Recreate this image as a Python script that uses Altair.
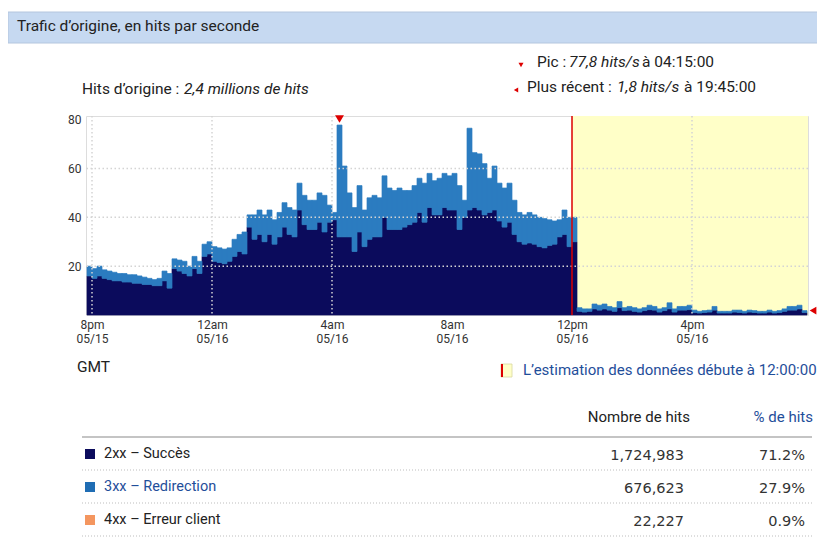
import altair as alt
import numpy as np
import pandas as pd

# ---------------- data (10-minute bins, GMT, first bin starts 19:50 on 05/15) ----------------
hits_2xx = [
    16, 15, 16, 15, 14.5, 14, 14, 13.5, 13.5, 13,
    13, 12.5, 12.5, 12, 12, 14, 11, 19, 18, 17,
    16, 19, 17, 24, 25, 22, 21.5, 21, 22, 24,
    26, 25, 36, 31, 33, 30, 33, 29, 32, 36,
    33, 32, 43, 37, 35, 35, 38, 34, 38, 39,
    32, 32, 32, 26, 34, 28, 31, 32, 32, 40,
    35, 35, 35, 36, 37, 38, 42, 38, 44, 41,
    41, 44, 43, 43, 35, 40, 43, 44, 43, 41,
    42, 43, 38.5, 36, 38, 33, 30, 29, 29.5, 29,
    28, 27.5, 28.5, 29, 32, 33, 28, 30,
    1.5, 1.2, 1.5, 2.5, 2, 2.5, 2, 1.5, 3, 1.8,
    2, 1.5, 1.2, 1.8, 2.2, 2, 1.2, 1.8, 2.5, 1.2,
    2, 2, 2.2, 1, 0.8, 1, 1.2, 2, 0.8, 0.8,
    0.8, 1.2, 1, 0.8, 1.2, 1, 0.8, 0.8, 1.2, 0.8,
    1, 1.5, 2, 2, 2.5, 1,
]
hits_3xx = [
    4, 4, 4, 3.5, 3.5, 3.5, 3, 3.5, 3, 3.5,
    3, 3, 2.5, 2.5, 3, 4, 6, 4, 4.5, 5,
    4, 5, 5, 5, 5, 6, 6, 6, 5.5, 7,
    7, 9, 5, 10, 10, 11, 10, 10, 10, 10,
    11, 11, 11, 12, 12, 12, 12, 15, 7, 3,
    45.8, 29, 18, 18, 19, 15, 17, 17, 16, 17,
    17, 16, 17, 15, 14, 15, 14, 16, 14, 14,
    15, 14, 14, 15, 18, 7, 33.5, 22.5, 23, 21,
    14, 18, 15.5, 16, 16, 14, 12, 12, 12.5, 12,
    12, 12, 10.5, 9.5, 7, 10, 12, 10,
    1.5, 1.3, 1.0, 2.0, 2.0, 2.0, 1.5, 1.5, 2.5, 1.2,
    1.5, 1.5, 1.3, 1.2, 1.8, 1.5, 1.3, 1.2, 2.5, 1.3,
    1.5, 1.5, 1.8, 1.0, 0.7, 0.8, 0.8, 1.5, 0.7, 0.7,
    0.7, 0.8, 1.0, 0.7, 0.8, 0.8, 0.7, 0.7, 0.8, 0.7,
    0.8, 1.0, 1.5, 1.5, 1.5, 0.8,
]

tick_hours = [0, 4, 8, 12, 16, 20]          # hours after 20:00 05/15
tick_time = ["8pm", "12am", "4am", "8am", "12pm", "4pm"]
tick_date = ["05/15", "05/16", "05/16", "05/16", "05/16", "05/16"]
grid_hours = [0, 4, 8, 20]
grid_values = [20, 40, 60]
y_ticks = [20, 40, 60, 80]

peak_hour = 8.25        # 04:15
peak_value = 77.8
estimate_hour = 16      # 12:00
latest_value = 1.8

table_labels = ["2xx – Succès", "3xx – Redirection", "4xx – Erreur client"]
table_counts = [1724983, 676623, 22227]
table_pcts = [71.2, 27.9, 0.9]

# ---------------- styles ----------------
NAVY = "#0b0b5c"
BLUE = "#2b7cc0"
ORANGE = "#f4965f"
RED = "#dd0000"
YELLOW = "#ffffc8"
LINKBLUE = "#1f4e9a"
TEXT = "#222222"
FONT = "Roboto"

W, H = 722, 199
X_MIN = -0.2
X_MAX = X_MIN + W / 30.0
Y_MAX = 81.5

n = len(hits_2xx)
starts = -1.0 / 6 + np.arange(n) / 6.0
ends = starts + 1.0 / 6
a = np.array(hits_2xx, dtype=float)
b = np.array(hits_3xx, dtype=float)
df = pd.DataFrame({
    "start": np.concatenate([starts, starts]),
    "end": np.concatenate([ends, ends]),
    "y0": np.concatenate([np.zeros(n), a]),
    "y1": np.concatenate([a, a + b]),
    "code": ["2xx"] * n + ["3xx"] * n,
})

one = pd.DataFrame({"k": [0]})

label_expr = ""
for h, t, d in zip(tick_hours, tick_time, tick_date):
    label_expr += f"datum.value == {h} ? ['{t}', '{d}'] : "
label_expr += "''"

xscale = alt.Scale(domain=[X_MIN, X_MAX], nice=False, zero=False)
yscale = alt.Scale(domain=[0, Y_MAX], nice=False)
code_scale = alt.Scale(domain=["2xx", "3xx"], range=[NAVY, BLUE])

bars = alt.Chart(df).mark_bar(strokeWidth=0.7).encode(
    x=alt.X("start:Q", scale=xscale, title=None,
            axis=alt.Axis(values=tick_hours, labelExpr=label_expr, title=None,
                          grid=False, ticks=False, domain=False,
                          labelFontSize=12, labelFont=FONT, labelColor="#333",
                          labelPadding=4, labelBaseline="top", labelLineHeight=14,
                          labelFlush=False, labelOverlap=False)),
    x2="end:Q",
    y=alt.Y("y0:Q", scale=yscale, title=None,
            axis=alt.Axis(values=y_ticks, title=None, grid=False, ticks=False,
                          domain=False, labelFontSize=12, labelFont=FONT,
                          labelColor="#333", labelPadding=5)),
    y2="y1:Q",
    color=alt.Color("code:N", scale=code_scale, legend=None),
    stroke=alt.Stroke("code:N", scale=code_scale, legend=None),
)

yellow = alt.Chart(one).mark_rect(color=YELLOW).encode(
    x=alt.datum(estimate_hour), x2=alt.datum(X_MAX),
    y=alt.value(0), y2=alt.value(H),
)

vgrid = alt.Chart(pd.DataFrame({"h": grid_hours})).mark_rule(
    color="#d4d4d4", strokeDash=[1.5, 2.5], strokeWidth=1.5
).encode(x=alt.X("h:Q", title=None))

hgrid = alt.Chart(pd.DataFrame({"v": grid_values})).mark_rule(
    color="#d4d4d4", strokeDash=[1.5, 2.5], strokeWidth=1.5
).encode(y=alt.Y("v:Q", title=None))

red_line = alt.Chart(one).mark_rule(color=RED, strokeWidth=1.5).encode(
    x=alt.datum(estimate_hour)
)

peak = alt.Chart(pd.DataFrame({"h": [peak_hour], "v": [peak_value]})).mark_point(
    shape="triangle-down", filled=True, color=RED, size=80, opacity=1
).encode(x=alt.X("h:Q", title=None), y=alt.value(3))

latest = alt.Chart(one).mark_point(
    shape="triangle-left", filled=True, color=RED, size=60, opacity=1, xOffset=5
).encode(x=alt.datum(X_MAX), y=alt.datum(latest_value))


def label(text, x, y, size=15.5, color=TEXT, align="left", style="normal", font=FONT):
    return alt.Chart(one).mark_text(
        text=text, align=align, baseline="middle", fontSize=size, color=color,
        fontStyle=style, font=font
    ).encode(x=alt.value(x), y=alt.value(y))


# plot origin is at page (86, 116)
header = alt.Chart(one).mark_rect(color="#c6d9f1", stroke="#b4c6de", strokeWidth=1).encode(
    x=alt.value(-78), x2=alt.value(732), y=alt.value(-104), y2=alt.value(-73)
)
texts = [
    label("Trafic d’origine, en hits par seconde", -69, -90, size=15.5),
    label("Pic :", 451, -54),
    label("77,8 hits/s", 483, -54, style="italic"),
    label("à 04:15:00", 556, -54),
    label("Plus récent :", 441, -29),
    label("1,8 hits/s", 531, -29, style="italic"),
    label("à 19:45:00", 598, -29),
    label("Hits d’origine :", -4, -27),
    label("2,4 millions de hits", 98, -27, style="italic"),
    label("GMT", -9, 251),
    label("L’estimation des données débute à 12:00:00", 437, 254, color=LINKBLUE, size=15),
    label("Nombre de hits", 604, 301, align="right", size=15),
    label("% de hits", 727, 301, align="right", color=LINKBLUE, size=15),
]

small_tri_down = alt.Chart(one).mark_point(
    shape="triangle-down", filled=True, color=RED, size=25, opacity=1
).encode(x=alt.value(435), y=alt.value(-51))
small_tri_left = alt.Chart(one).mark_point(
    shape="triangle-left", filled=True, color=RED, size=25, opacity=1
).encode(x=alt.value(430), y=alt.value(-26))

est_icon = alt.Chart(one).mark_rect(color=YELLOW, stroke="#d8d8a0", strokeWidth=0.8).encode(
    x=alt.value(415), x2=alt.value(426), y=alt.value(248), y2=alt.value(261)
)
est_icon_edge = alt.Chart(one).mark_rule(color=RED, strokeWidth=2).encode(
    x=alt.value(416), y=alt.value(248), y2=alt.value(261)
)

table_layers = [
    alt.Chart(one).mark_rule(color="#c4c4c4", strokeWidth=2).encode(
        x=alt.value(-4), x2=alt.value(726), y=alt.value(321)
    )
]
row_y = [338, 371, 404]
sq_colors = [NAVY, "#1f6db4", ORANGE]
lab_colors = [TEXT, LINKBLUE, TEXT]
for i, (lab, cnt, pct) in enumerate(zip(table_labels, table_counts, table_pcts)):
    yy = row_y[i]
    table_layers.append(
        alt.Chart(one).mark_square(size=100, color=sq_colors[i], opacity=1).encode(
            x=alt.value(4), y=alt.value(yy)
        )
    )
    table_layers.append(label(lab, 18, yy, size=14.5, color=lab_colors[i]))
    table_layers.append(label(f"{cnt:,}", 598, yy + 2, size=14.5, align="right",
                              font="DejaVu Sans", color="#333"))
    table_layers.append(label(f"{pct}%", 719, yy + 2, size=14.5, align="right",
                              font="DejaVu Sans", color="#333"))
    table_layers.append(
        alt.Chart(one).mark_rule(color="#bdbdbd", strokeDash=[1, 2], strokeWidth=1).encode(
            x=alt.value(-4), x2=alt.value(726), y=alt.value(yy + 16)
        )
    )

chart = alt.layer(
    header, yellow, bars, vgrid, hgrid, red_line, peak, latest,
    small_tri_down, small_tri_left, est_icon, est_icon_edge,
    *texts, *table_layers
).properties(
    width=W, height=H,
    autosize=alt.AutoSizeParams(type="none"),
    padding={"left": 78, "top": 108, "right": 9, "bottom": 222},
).configure_view(
    stroke="#bcbcbc", strokeWidth=1
).configure(font=FONT)

chart.save("out.html", embed_options={"renderer": "svg", "actions": False})
